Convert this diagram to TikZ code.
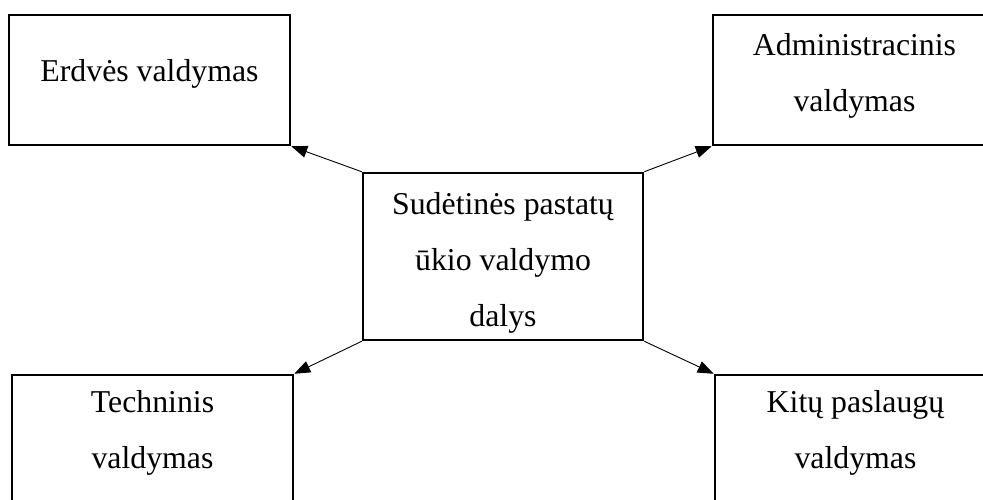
\documentclass[tikz,border=0pt]{standalone}
\usepackage{fontspec}
\setmainfont{Liberation Serif}
\usetikzlibrary{arrows.meta}
\tikzset{
  part/.style={draw, line width=2.5pt, inner sep=0pt, minimum width=281pt, minimum height=130pt},
  label text/.style={anchor=base, align=center, inner sep=0pt,
    font=\fontsize{31.8pt}{56pt}\selectfont},
  link/.style={line width=0.9pt, -{Triangle[length=16pt,width=12pt]}}
}
\begin{document}
\begin{tikzpicture}[x=1pt,y=-1pt]
\useasboundingbox (0,0) rectangle (983,500);
\clip (0,0) rectangle (983,500);
% boxes
\node[part] (space) at (149.5,80) {};
\node[part, minimum width=283pt] (admin) at (854.5,80) {};
\node[part, minimum width=280pt, minimum height=167pt] (core) at (503,256.5) {};
\node[part] (tech) at (152.5,440) {};
\node[part] (other) at (855.5,440) {};
% texts (base anchor sits on the last line)
\node[label text] (spaceT) at (149.5,82) {Erdvės valdymas};
\node[label text] (adminT) at (854.5,112) {Administracinis\\valdymas};
\node[label text] (coreT) at (503,326) {Sudėtinės pastatų\\ūkio valdymo\\dalys};
\node[label text] (techT) at (152.5,468) {Techninis\\valdymas};
\node[label text] (otherT) at (855.5,468) {Kitų paslaugų\\valdymas};
% connectors
\draw[link] (core.north west) -- (space.south east);
\draw[link] (core.north east) -- (admin.south west);
\draw[link] (core.south west) -- (tech.north east);
\draw[link] (core.south east) -- (other.north west);
\end{tikzpicture}
\end{document}
